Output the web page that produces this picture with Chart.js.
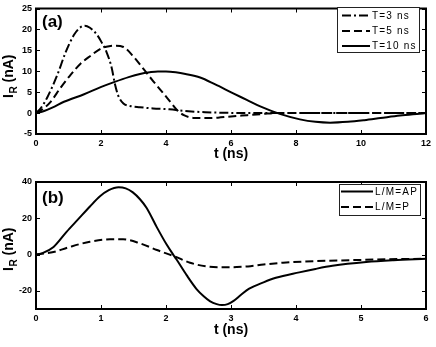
<!DOCTYPE html>
<html>
<head>
<meta charset="utf-8">
<script src="https://cdn.jsdelivr.net/npm/chart.js@4/dist/chart.umd.min.js"></script>
<style>
  html, body { margin: 0; padding: 0; background: #fff; }
  #wrap { position: relative; width: 436px; height: 347px; background: #fff; }
  .panel { position: absolute; left: 0; width: 436px; }
  #pa { top: 0; height: 172px; }
  #pb { top: 172px; height: 175px; }
</style>
</head>
<body>
<div id="wrap">
  <div class="panel" id="pa"><canvas id="ca"></canvas></div>
  <div class="panel" id="pb"><canvas id="cb"></canvas></div>
</div>
<script>
// ---------- data ----------
// panel (a)
const labelsA = ['T=3 ns', 'T=5 ns', 'T=10 ns'];
const t3  = [0,0.15,0.35,0.66,0.91,1.17,1.35,1.5,1.66,1.87,2.02,2.17,2.33,2.43,2.53,2.69,2.89,3.2,3.6,4.1,4.6,5.2,6,7,8,9,10,11,12];
const i3  = [0,1.2,3.8,9.2,14.5,18.7,20.4,20.9,20.4,18.8,16.9,14.6,10.8,6.9,4.2,2.3,1.7,1.4,1.1,0.9,0.5,0.2,0.05,0,0,0,0,0,0];
const t5  = [0,0.2,0.45,0.76,1.07,1.37,1.68,1.99,2.25,2.45,2.69,2.99,3.3,3.61,3.92,4.15,4.33,4.55,4.84,5.2,5.6,6,6.5,7,7.4,8,9,10,11,12];
const i5  = [0,0.9,2.7,6.1,9.2,11.8,13.7,15.4,16.0,16.1,15.8,13.6,10.6,7.6,4.7,2.5,0.8,-0.5,-1.15,-1.2,-1.1,-0.8,-0.5,-0.2,0,0,0,0,0,0];
const t10 = [0,0.25,0.5,0.86,1.48,1.99,2.4,2.85,3.2,3.5,3.75,4.0,4.3,4.6,5.05,5.5,6.07,6.5,6.9,7.5,8.12,8.6,9.05,9.6,10.1,10.6,11.2,11.8,12];
const i10 = [0,0.5,1.3,2.7,4.5,6.2,7.4,8.6,9.35,9.75,9.95,9.95,9.75,9.35,8.5,6.9,4.7,3.1,1.6,-0.2,-1.5,-2.1,-2.3,-2.1,-1.7,-1.2,-0.6,-0.15,0];
const xTicksA = [0,2,4,6,8,10,12];
const yTicksA = [-5,0,5,10,15,20,25];

// panel (b)
const labelsB = ['L/M=AP', 'L/M=P'];
const tAP = [0,0.1,0.27,0.47,0.65,0.83,0.98,1.12,1.27,1.38,1.49,1.6,1.7,1.86,2.01,2.11,2.16,2.32,2.47,2.58,2.68,2.78,2.86,2.95,3.04,3.15,3.28,3.5,3.69,4.05,4.3,4.56,5.08,5.5,6];
const iAP = [0,0.8,4.2,12.5,19.5,26.5,32,35.5,37.1,36.5,34.3,30.5,25.8,15,5.5,0,-2.6,-11.5,-19,-23,-25.8,-27.3,-27.8,-27.3,-25.5,-22.3,-18.8,-15.3,-12.8,-9.8,-7.9,-6.2,-4.1,-3.1,-2.3];
const tP  = [0,0.27,0.5,0.83,1.14,1.34,1.6,1.86,2.14,2.37,2.63,2.85,3.09,3.3,3.5,3.8,4.3,4.82,5.4,6];
const iP  = [0,1.4,4.0,7.1,8.4,8.4,6.2,2.5,-1.1,-4.5,-6.6,-7.0,-6.9,-6.4,-5.5,-4.5,-3.6,-3.1,-2.6,-2.3];
const xTicksB = [0,1,2,3,4,5,6];
const yTicksB = [-20,0,20,40];

// ---------- helpers ----------
const FONT = '"Liberation Sans", Arial, Helvetica, sans-serif';
function pts(xs, ys) { return xs.map((x, k) => ({ x: x, y: ys[k] })); }

const decor = {
  id: 'decor',
  afterDatasetsDraw(chart, args, o) {
    const ctx = chart.ctx, a = chart.chartArea;
    const xs = chart.scales.x, ys = chart.scales.y;
    ctx.save();
    ctx.strokeStyle = '#000';
    ctx.fillStyle = '#000';
    // inner tick marks on all four sides
    ctx.lineWidth = 1;
    ctx.beginPath();
    xs.ticks.forEach(t => {
      const px = Math.round(xs.getPixelForValue(t.value)) + 0.5;
      ctx.moveTo(px, a.bottom); ctx.lineTo(px, a.bottom - 4);
      ctx.moveTo(px, a.top); ctx.lineTo(px, a.top + 4);
    });
    ys.ticks.forEach(t => {
      const py = Math.round(ys.getPixelForValue(t.value)) + 0.5;
      ctx.moveTo(a.left, py); ctx.lineTo(a.left + 4, py);
      ctx.moveTo(a.right, py); ctx.lineTo(a.right - 4, py);
    });
    ctx.stroke();
    // axes box
    ctx.lineWidth = 2;
    ctx.strokeRect(a.left, a.top, a.right - a.left, a.bottom - a.top);

    // panel label
    ctx.font = 'bold 17px ' + FONT;
    ctx.textAlign = 'left';
    ctx.textBaseline = 'alphabetic';
    ctx.fillText(o.panel, o.panelX, o.panelY);

    // legend
    const L = o.legend;
    ctx.fillStyle = '#fff';
    ctx.fillRect(L.x0, L.y0, L.x1 - L.x0, L.y1 - L.y0);
    ctx.lineWidth = 1;
    ctx.strokeStyle = '#222';
    ctx.strokeRect(L.x0 + 0.5, L.y0 + 0.5, L.x1 - L.x0, L.y1 - L.y0);
    chart.data.datasets.forEach((ds, k) => {
      const y = L.rows[k];
      ctx.strokeStyle = '#000';
      ctx.lineWidth = ds.borderWidth;
      ctx.setLineDash(ds.borderDash || []);
      ctx.beginPath();
      ctx.moveTo(L.lx0, y); ctx.lineTo(L.lx1, y);
      ctx.stroke();
      ctx.setLineDash([]);
      ctx.fillStyle = '#000';
      ctx.font = L.font;
      ctx.letterSpacing = '1.2px';
      ctx.textBaseline = 'middle';
      ctx.fillText(ds.label, L.tx, y + 0.5);
      ctx.letterSpacing = '0px';
    });

    // x axis title
    ctx.fillStyle = '#000';
    ctx.font = 'bold 14px ' + FONT;
    ctx.textAlign = 'center';
    ctx.textBaseline = 'alphabetic';
    ctx.fillText('t (ns)', (a.left + a.right) / 2, o.xTitleY);

    // y axis title: I_R (nA)
    ctx.save();
    ctx.translate(o.yTitleX, o.yTitleY);
    ctx.rotate(-Math.PI / 2);
    ctx.textAlign = 'left';
    const big = 'bold 14px ' + FONT, small = 'bold 10px ' + FONT;
    ctx.font = big; const w1 = ctx.measureText('I').width; const w3 = ctx.measureText(' (nA)').width;
    ctx.font = small; const w2 = ctx.measureText('R').width;
    const sx = -(w1 + w2 + w3) / 2;
    ctx.font = big; ctx.fillText('I', sx, 0);
    ctx.font = small; ctx.fillText('R', sx + w1 + 0.5, 4);
    ctx.font = big; ctx.fillText(' (nA)', sx + w1 + w2 + 0.5, 0);
    ctx.restore();

    ctx.restore();
  }
};

function makeScales(xmin, xmax, ymin, ymax, xt, yt) {
  const tickFont = { family: FONT, size: 9, weight: 'bold', lineHeight: 1 };
  return {
    x: {
      type: 'linear', min: xmin, max: xmax,
      afterBuildTicks: s => { s.ticks = xt.map(v => ({ value: v })); },
      afterFit: s => { s.height = 38; },
      grid: { display: false, drawTicks: false },
      border: { display: false },
      ticks: { color: '#000', font: tickFont, padding: 5, maxRotation: 0, autoSkip: false }
    },
    y: {
      type: 'linear', min: ymin, max: ymax,
      afterBuildTicks: s => { s.ticks = yt.map(v => ({ value: v })); },
      afterFit: s => { s.width = 36; },
      grid: { display: false, drawTicks: false },
      border: { display: false },
      ticks: { color: '#000', font: tickFont, padding: 4, autoSkip: false }
    }
  };
}

function lineDs(label, data, dash) {
  return {
    label: label, data: data,
    borderColor: '#000', backgroundColor: '#000',
    borderWidth: 2, borderDash: dash,
    pointRadius: 0, fill: false,
    cubicInterpolationMode: 'monotone'
  };
}

Chart.defaults.font.family = FONT;

new Chart(document.getElementById('ca'), {
  type: 'line',
  data: {
    datasets: [
      lineDs(labelsA[0], pts(t3, i3), [9, 3, 2, 3]),
      lineDs(labelsA[1], pts(t5, i5), [8, 4]),
      lineDs(labelsA[2], pts(t10, i10), [])
    ]
  },
  options: {
    responsive: true, maintainAspectRatio: false, animation: false, devicePixelRatio: 1,
    layout: { padding: { top: 4, right: 10, left: 0, bottom: 0 } },
    scales: makeScales(0, 12, -5, 25, xTicksA, yTicksA),
    plugins: {
      legend: { display: false }, tooltip: { enabled: false },
      decor: {
        panel: '(a)', panelX: 42, panelY: 27,
        xTitleY: 158, yTitleX: 13, yTitleY: 76.5,
        legend: { x0: 337, x1: 419, y0: 7, y1: 52, rows: [15.5, 31, 46], lx0: 342, lx1: 370, tx: 372,
                  font: '10px ' + FONT }
      }
    }
  },
  plugins: [decor]
});

new Chart(document.getElementById('cb'), {
  type: 'line',
  data: {
    datasets: [
      lineDs(labelsB[0], pts(tAP, iAP), []),
      lineDs(labelsB[1], pts(tP, iP), [8, 4])
    ]
  },
  options: {
    responsive: true, maintainAspectRatio: false, animation: false, devicePixelRatio: 1,
    layout: { padding: { top: 10, right: 10, left: 0, bottom: 0 } },
    scales: makeScales(0, 6, -30, 40, xTicksB, yTicksB),
    plugins: {
      legend: { display: false }, tooltip: { enabled: false },
      decor: {
        panel: '(b)', panelX: 42, panelY: 31,
        xTitleY: 161.5, yTitleX: 13, yTitleY: 77.5,
        legend: { x0: 339, x1: 420, y0: 12, y1: 43, rows: [19.5, 35], lx0: 341, lx1: 373, tx: 375,
                  font: '10px ' + FONT }
      }
    }
  },
  plugins: [decor]
});
</script>
</body>
</html>
